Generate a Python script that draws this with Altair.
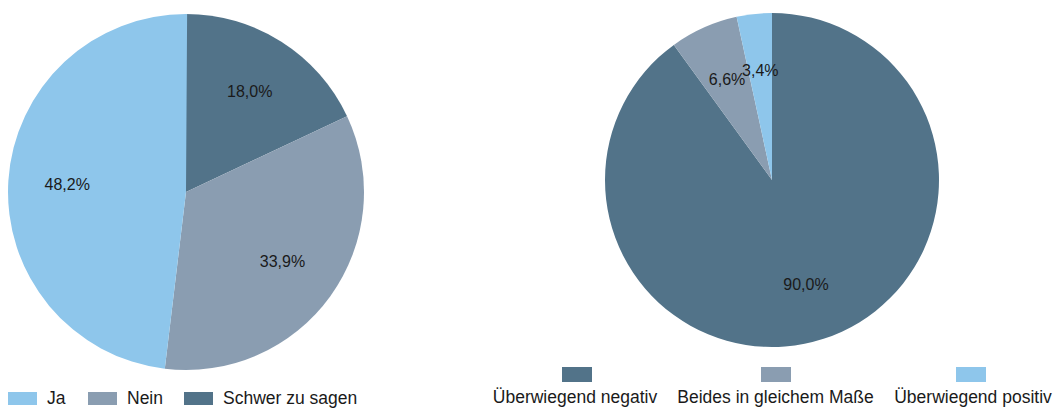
import altair as alt
import pandas as pd

# Left pie
left_cats = ["Schwer zu sagen", "Nein", "Ja"]
left_vals = [18.0, 33.9, 48.2]
left_labels = ["18,0%", "33,9%", "48,2%"]
left_legend_order = ["Ja", "Nein", "Schwer zu sagen"]

# Right pie
right_cats = ["Überwiegend negativ", "Beides in gleichem Maße", "Überwiegend positiv"]
right_vals = [90.0, 6.6, 3.4]
right_labels = ["90,0%", "6,6%", "3,4%"]

DARK = "#527389"
GREY = "#8A9DB1"
LIGHT = "#8EC6EB"
left_colors = {"Schwer zu sagen": DARK, "Nein": GREY, "Ja": LIGHT}
right_colors = {"Überwiegend negativ": DARK, "Beides in gleichem Maße": GREY, "Überwiegend positiv": LIGHT}

FONT = "Liberation Sans"

ldf = pd.DataFrame({"cat": left_cats, "v": left_vals, "lab": left_labels, "o": range(3)})
rdf = pd.DataFrame({"cat": right_cats, "v": right_vals, "lab": right_labels, "o": range(3)})


def pie(df, colors, cx, cy, r, lr):
    base = alt.Chart(df)
    arc = base.mark_arc(radius=r, stroke=None).encode(
        theta=alt.Theta("v:Q", stack=True, scale=alt.Scale(domain=[0, 100])),
        order=alt.Order("o:Q"),
        color=alt.Color("cat:N", scale=alt.Scale(domain=list(colors.keys()), range=list(colors.values())), legend=None),
        x=alt.value(cx), y=alt.value(cy),
    )
    txt = base.mark_text(radius=lr, font=FONT, fontSize=16, color="#1a1a1a").encode(
        theta=alt.Theta("v:Q", stack=True, scale=alt.Scale(domain=[0, 100])),
        order=alt.Order("o:Q"),
        text="lab:N",
        x=alt.value(cx), y=alt.value(cy),
    )
    return arc, txt

la, lt = pie(ldf, left_colors, 186, 192, 178, 119)
ra, rt = pie(rdf, right_colors, 772, 180, 167, 110)

# Left legend (horizontal, swatch left of label)
leg_l = pd.DataFrame({
    "cat": left_legend_order,
    "x0": [8, 88, 184],
    "col": [left_colors[c] for c in left_legend_order],
})
leg_l["x1"] = leg_l["x0"] + 29
leg_l["tx"] = leg_l["x0"] + 39
leg_l["y0"] = 392
leg_l["y1"] = 405
leg_l["ty"] = 404

ll_rect = alt.Chart(leg_l).mark_rect().encode(
    x=alt.X("x0:Q", scale=None, axis=None), x2="x1:Q",
    y=alt.Y("y0:Q", scale=None, axis=None), y2="y1:Q",
    color=alt.Color("col:N", scale=None),
)
ll_text = alt.Chart(leg_l).mark_text(align="left", baseline="alphabetic", font=FONT, fontSize=17.5, color="#1a1a1a").encode(
    x=alt.X("tx:Q", scale=None, axis=None), y=alt.Y("ty:Q", scale=None, axis=None), text="cat:N",
)

# Right legend (swatch above label)
leg_r = pd.DataFrame({
    "cat": right_cats,
    "xc": [577, 776, 971],
    "tc": [575, 775.5, 973],
    "col": [right_colors[c] for c in right_cats],
})
leg_r["x0"] = leg_r["xc"] - 15
leg_r["x1"] = leg_r["xc"] + 15
leg_r["y0"] = 367
leg_r["y1"] = 382
leg_r["ty"] = 403

rl_rect = alt.Chart(leg_r).mark_rect().encode(
    x=alt.X("x0:Q", scale=None, axis=None), x2="x1:Q",
    y=alt.Y("y0:Q", scale=None, axis=None), y2="y1:Q",
    color=alt.Color("col:N", scale=None),
)
rl_text = alt.Chart(leg_r).mark_text(align="center", baseline="alphabetic", font=FONT, fontSize=17.5, color="#1a1a1a").encode(
    x=alt.X("tc:Q", scale=None, axis=None), y=alt.Y("ty:Q", scale=None, axis=None), text="cat:N",
)

chart = alt.layer(la, lt, ra, rt, ll_rect, ll_text, rl_rect, rl_text).resolve_scale(
    color="independent", theta="independent"
).properties(
    width=1053, height=408, padding=0, autosize=alt.AutoSizeParams(type="none"),
    background="white",
).configure_view(stroke=None)

chart.save("out.html", embed_options={"renderer": "svg", "actions": False})
